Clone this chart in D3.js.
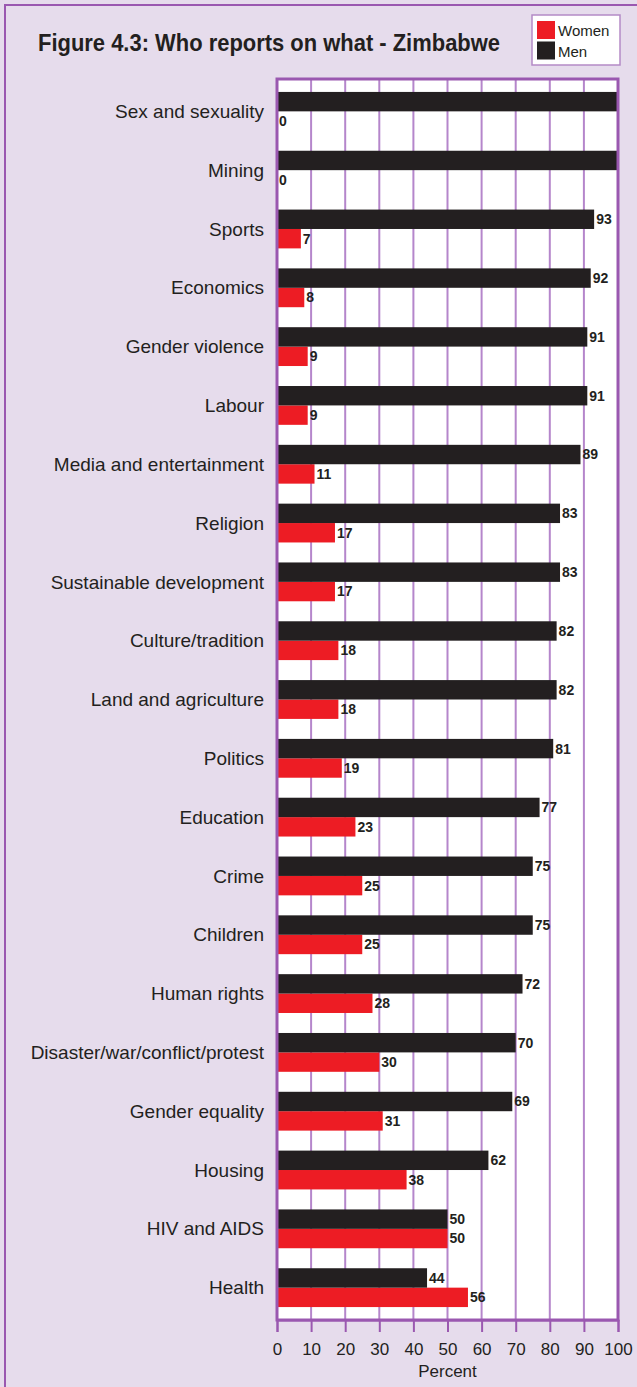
<!DOCTYPE html>
<html>
<head>
<meta charset="utf-8">
<script src="https://cdn.jsdelivr.net/npm/d3@7"></script>
<style>
  body { margin: 0; background: #e6dcec; }
  svg { display: block; font-family: "Liberation Sans", Arial, sans-serif; }
</style>
</head>
<body>
<svg width="637" height="1387"></svg>
<script>
// Data
var categories = ["Sex and sexuality", "Mining", "Sports", "Economics", "Gender violence", "Labour",
	"Media and entertainment", "Religion", "Sustainable development", "Culture/tradition",
	"Land and agriculture", "Politics", "Education", "Crime", "Children", "Human rights",
	"Disaster/war/conflict/protest", "Gender equality", "Housing", "HIV and AIDS", "Health"];
var women = [0, 0, 7, 8, 9, 9, 11, 17, 17, 18, 18, 19, 23, 25, 25, 28, 30, 31, 38, 50, 56];
var men = [100, 100, 93, 92, 91, 91, 89, 83, 83, 82, 82, 81, 77, 75, 75, 72, 70, 69, 62, 50, 44];
var seriesNames = ["Women", "Men"];
var xTicks = [0, 10, 20, 30, 40, 50, 60, 70, 80, 90, 100];

var colors = { Women: "#ed1c24", Men: "#231f20" };
var ink = "#231f20",
	frame = "#9a58b0",
	grid = "#b586cb";

var svg = d3.select("svg");

// outer frame (right side runs off the page)
svg.append("rect")
	.attr("x", 5).attr("y", 5)
	.attr("width", 700).attr("height", 1400)
	.attr("fill", "#e6dcec")
	.attr("stroke", frame).attr("stroke-width", 2);

svg.append("text")
	.attr("x", 38).attr("y", 51)
	.attr("font-weight", "bold")
	.attr("font-size", 24)
	.attr("textLength", 462)
	.attr("lengthAdjust", "spacingAndGlyphs")
	.attr("fill", ink)
	.text("Figure 4.3: Who reports on what - Zimbabwe");

// legend
var legend = svg.append("g");
legend.append("rect")
	.attr("x", 532).attr("y", 15)
	.attr("width", 88).attr("height", 50)
	.attr("fill", "#fff")
	.attr("stroke", "#b48ac6").attr("stroke-width", 1.5);
seriesNames.forEach(function(s, i) {
	legend.append("rect")
		.attr("x", 537).attr("y", 21 + i * 20.5)
		.attr("width", 18).attr("height", 18)
		.attr("fill", colors[s]);
	legend.append("text")
		.attr("x", 558).attr("y", 36 + i * 21)
		.attr("font-size", 15)
		.attr("fill", ink)
		.text(s);
});

// scales
var xScale = d3.scaleLinear().domain([0, 100]).range([277, 618]);
var yScale = d3.scaleBand().domain(categories).range([79, 1320])
	.paddingInner(0.34).paddingOuter(0.22);
var sub = d3.scaleBand().domain(["Men", "Women"]).range([0, yScale.bandwidth()]);

// plot background
svg.append("rect")
	.attr("x", xScale(0)).attr("y", 79)
	.attr("width", xScale(100) - xScale(0)).attr("height", 1320 - 79)
	.attr("fill", "#fff");

// grid
svg.append("g").selectAll("line")
	.data(xTicks.slice(1, -1))
	.enter().append("line")
	.attr("x1", d => xScale(d)).attr("x2", d => xScale(d))
	.attr("y1", 79).attr("y2", 1320)
	.attr("stroke", grid).attr("stroke-width", 2);

var rows = categories.map(function(c, i) {
	return { cat: c, Women: women[i], Men: men[i] };
});

var g = svg.append("g");
var bars = [];
rows.forEach(function(r) {
	seriesNames.forEach(function(s) { bars.push({ cat: r.cat, key: s, value: r[s] }); });
});

g.selectAll(".bar")
	.data(bars)
	.enter().append("rect")
	.attr("class", "bar")
	.attr("x", xScale(0))
	.attr("y", d => yScale(d.cat) + sub(d.key))
	.attr("width", d => xScale(d.value) - xScale(0))
	.attr("height", sub.bandwidth())
	.attr("fill", d => colors[d.key]);

g.selectAll(".val")
	.data(bars.filter(d => d.value < 100))
	.enter().append("text")
	.attr("class", "val")
	.attr("x", d => xScale(d.value) + 2)
	.attr("y", d => yScale(d.cat) + sub(d.key) + sub.bandwidth() / 2)
	.attr("dy", "0.35em")
	.attr("font-size", 14)
	.attr("font-weight", "bold")
	.attr("fill", ink)
	.text(d => d.value);

// category labels
svg.append("g").selectAll("text")
	.data(categories)
	.enter().append("text")
	.attr("x", 264)
	.attr("y", d => yScale(d) + yScale.bandwidth() / 2)
	.attr("dy", "0.35em")
	.attr("text-anchor", "end")
	.attr("font-size", 19)
	.attr("fill", ink)
	.text(d => d);

// plot frame
svg.append("rect")
	.attr("x", xScale(0)).attr("y", 79)
	.attr("width", xScale(100) - xScale(0)).attr("height", 1320 - 79)
	.attr("fill", "none")
	.attr("stroke", frame).attr("stroke-width", 3);

// x axis
var axis = svg.append("g")
	.attr("transform", "translate(0,1320)")
	.call(d3.axisBottom(xScale).tickValues(xTicks).tickSize(12).tickPadding(11));
axis.select(".domain").attr("stroke", frame).attr("stroke-width", 2);
axis.selectAll(".tick line").attr("stroke", frame).attr("stroke-width", 2);
axis.selectAll(".tick text")
	.attr("font-size", 17)
	.attr("font-family", "'Liberation Sans', Arial, sans-serif")
	.attr("fill", ink);

svg.append("text")
	.attr("x", xScale(50)).attr("y", 1377)
	.attr("text-anchor", "middle")
	.attr("font-size", 17)
	.attr("fill", ink)
	.text("Percent");
</script>
</body>
</html>
